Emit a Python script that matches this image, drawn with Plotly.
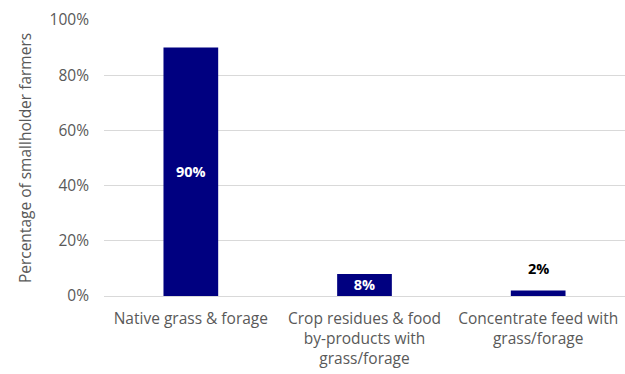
import plotly.graph_objects as go

categories = ["Native grass & forage",
              "Crop residues & food<br>by-products with<br>grass/forage",
              "Concentrate feed with<br>grass/forage"]
shares = [90, 8, 2]
labels = ["90%", "8%", "2%"]
tick_vals = [0, 20, 40, 60, 80, 100]
tick_text = ["0%", "20%", "40%", "60%", "80%", "100%"]

FONT = "Open Sans, Liberation Sans, sans-serif"
GREY = "#595959"
LABEL_SIZE = 14.5

# bars tall enough carry their value inside; the thin one gets it above
inside_text = [t if v >= 5 else "" for t, v in zip(labels, shares)]

fig = go.Figure(go.Bar(
    x=categories,
    y=shares,
    text=inside_text,
    textposition="inside",
    insidetextanchor="middle",
    constraintext="none",
    textfont=dict(family=FONT, size=LABEL_SIZE, color="white"),
    texttemplate="<b>%{text}</b>",
    marker=dict(color="#000080", line=dict(width=0)),
    cliponaxis=False,
    width=0.315,
))

for cat, v, t in zip(categories, shares, labels):
    if v < 5:
        fig.add_annotation(
            x=cat, y=v, text=f"<b>{t}</b>", showarrow=False,
            yanchor="bottom", yshift=10,
            font=dict(family=FONT, size=LABEL_SIZE, color="black"),
        )

fig.update_layout(
    width=625, height=374,
    margin=dict(l=104, r=0, t=20, b=78),
    paper_bgcolor="white",
    plot_bgcolor="white",
    showlegend=False,
    font=dict(family=FONT, color=GREY, size=15),
    uniformtext=dict(mode=False),
)
fig.update_xaxes(
    tickfont=dict(family=FONT, size=15.5, color=GREY),
    showgrid=False,
    showline=False,
    ticks="",
    tickangle=0,
    ticklabelstandoff=11,
)
fig.update_yaxes(
    range=[0, 100],
    tickvals=tick_vals,
    ticktext=tick_text,
    tickfont=dict(family=FONT, size=15.5, color=GREY),
    showgrid=True,
    gridcolor="#d9d9d9",
    gridwidth=1,
    zeroline=True,
    zerolinecolor="#d9d9d9",
    zerolinewidth=1,
    ticks="",
    ticklabelstandoff=14,
    title=dict(text="Percentage of smallholder farmers",
               font=dict(family=FONT, size=15.5, color=GREY), standoff=14),
)

fig.write_html("out.html")
